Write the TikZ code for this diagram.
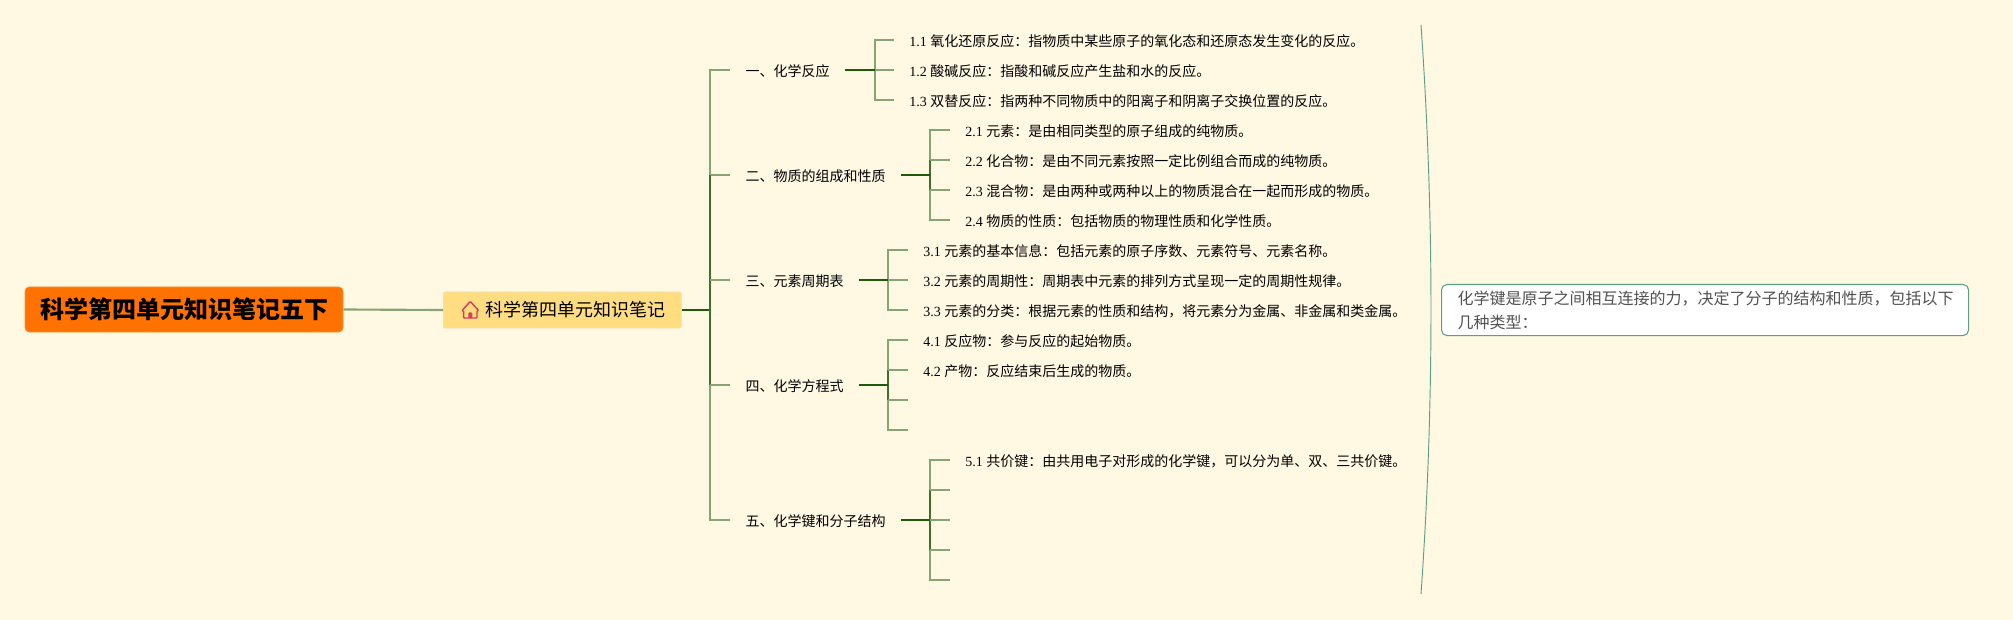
\documentclass[tikz,border=0pt]{standalone}
\usepackage{fontspec}
\setmainfont{Liberation Serif}
\newfontfamily\cjk{Noto Sans CJK SC}
\definecolor{bgc}{HTML}{FFF8E3}
\definecolor{lightline}{HTML}{86A574}
\definecolor{midline}{HTML}{3F6F2A}
\definecolor{darkline}{HTML}{1F5A0A}
\definecolor{rootfill}{HTML}{FF7200}
\definecolor{subfill}{HTML}{FFDD80}
\definecolor{noteline}{HTML}{5F9F85}
\definecolor{housered}{HTML}{D2405A}
\newcommand{\leaftext}[2]{#1 {\cjk #2}}
\newcommand{\fwcolon}{\char"FF1A\relax}
\newcommand{\fwcomma}{\char"FF0C\relax}
\tikzset{
  x=0.75pt,y=-0.75pt,
  rootnode/.style={draw=orange!85!white,fill=rootfill,rounded corners=3pt,minimum width=238.5pt,minimum height=33.75pt,inner sep=0pt,font=\cjk\bfseries\fontsize{18}{22}\selectfont,text=black},
  subnode/.style={draw=subfill!80!gray!60,fill=subfill,rounded corners=1pt,inner xsep=12pt,inner ysep=0pt,minimum height=27pt,font=\cjk\fontsize{13.5}{16}\selectfont,text=black},
  branchnode/.style={anchor=west,inner xsep=11.6pt,inner ysep=0pt,text height=10pt,text depth=0.5pt,font=\cjk\fontsize{10.5}{12}\selectfont,text=black},
  leafnode/.style={anchor=west,inner xsep=11.25pt,inner ysep=0pt,text height=10pt,text depth=0.5pt,font=\fontsize{10.5}{12}\selectfont,text=black},
  notenode/.style={draw=noteline,line width=0.8pt,fill=white,rounded corners=4pt,minimum width=395.25pt,minimum height=38.25pt,inner xsep=10.6pt,inner ysep=0pt,text width=374pt,align=left,font=\cjk\fontsize{12}{18}\selectfont,text=black!68},
  lightw/.style={draw=lightline,line width=1.6pt},
  midw/.style={draw=midline,line width=1.6pt},
  darkw/.style={draw=darkline,line width=2.2pt},
}
\begin{document}
\begin{tikzpicture}
\useasboundingbox[fill=bgc] (0,0) rectangle (2013,620);
% main nodes
\node[rootnode] (root) at (184,309.5) {科学第四单元知识笔记五下};
\node[subnode,anchor=west] (sub) at (443,310) {\hspace*{19.5pt}科学第四单元知识笔记};
\coordinate (trunk) at (710,310);
% branches
\node[branchnode] (b1) at (730,70) {一、化学反应};
\node[branchnode] (b2) at (730,175) {二、物质的组成和性质};
\node[branchnode] (b3) at (730,280) {三、元素周期表};
\node[branchnode] (b4) at (730,385) {四、化学方程式};
\node[branchnode] (b5) at (730,520) {五、化学键和分子结构};
% leaves
\node[leafnode] (l11) at (894,40) {\leaftext{1.1}{氧化还原反应\fwcolon 指物质中某些原子的氧化态和还原态发生变化的反应。}};
\node[leafnode] (l12) at (894,70) {\leaftext{1.2}{酸碱反应\fwcolon 指酸和碱反应产生盐和水的反应。}};
\node[leafnode] (l13) at (894,100) {\leaftext{1.3}{双替反应\fwcolon 指两种不同物质中的阳离子和阴离子交换位置的反应。}};
\node[leafnode] (l21) at (950,130) {\leaftext{2.1}{元素\fwcolon 是由相同类型的原子组成的纯物质。}};
\node[leafnode] (l22) at (950,160) {\leaftext{2.2}{化合物\fwcolon 是由不同元素按照一定比例组合而成的纯物质。}};
\node[leafnode] (l23) at (950,190) {\leaftext{2.3}{混合物\fwcolon 是由两种或两种以上的物质混合在一起而形成的物质。}};
\node[leafnode] (l24) at (950,220) {\leaftext{2.4}{物质的性质\fwcolon 包括物质的物理性质和化学性质。}};
\node[leafnode] (l31) at (908,250) {\leaftext{3.1}{元素的基本信息\fwcolon 包括元素的原子序数、元素符号、元素名称。}};
\node[leafnode] (l32) at (908,280) {\leaftext{3.2}{元素的周期性\fwcolon 周期表中元素的排列方式呈现一定的周期性规律。}};
\node[leafnode] (l33) at (908,310) {\leaftext{3.3}{元素的分类\fwcolon 根据元素的性质和结构\fwcomma 将元素分为金属、非金属和类金属。}};
\node[leafnode] (l41) at (908,340) {\leaftext{4.1}{反应物\fwcolon 参与反应的起始物质。}};
\node[leafnode] (l42) at (908,370) {\leaftext{4.2}{产物\fwcolon 反应结束后生成的物质。}};
\coordinate (l43) at (908,400);
\coordinate (l44) at (908,430);
\node[leafnode] (l51) at (950,460) {\leaftext{5.1}{共价键\fwcolon 由共用电子对形成的化学键\fwcomma 可以分为单、双、三共价键。}};
\coordinate (l52) at (950,490);
\coordinate (l53) at (950,520);
\coordinate (l54) at (950,550);
\coordinate (l55) at (950,580);
% junctions
\coordinate (j1) at (875,70);
\coordinate (j2) at (930,175);
\coordinate (j3) at (888,280);
\coordinate (j4) at (888,385);
\coordinate (j5) at (930,520);
% root to sub
\draw[lightw] (root.east) -- (sub.west);
\draw[darkw] (sub.east) -- (trunk);
% trunk
\draw[lightw,line join=miter] (trunk |- b2.west) -- (trunk |- b1.west) -- (b1.west);
\draw[lightw] (trunk |- b2.west) -- (b2.west);
\draw[midw] (trunk |- b2.west) -- (trunk |- b4.west);
\draw[lightw] (trunk |- b3.west) -- (b3.west);
\draw[lightw] (trunk |- b4.west) -- (b4.west);
\draw[lightw] (trunk |- b4.west) -- (trunk |- b5.west) -- (b5.west);
% branch 1
\draw[lightw] (j1) -- (l12.west);
\draw[lightw] (j1) -- (j1 |- l11.west) -- (l11.west);
\draw[lightw] (j1) -- (j1 |- l13.west) -- (l13.west);
\draw[darkw] (b1.east) -- (j1);
% branch 2
\draw[midw] (j2 |- l22.west) -- (j2 |- l23.west);
\draw[lightw] (j2 |- l22.west) -- (j2 |- l21.west) -- (l21.west);
\draw[lightw] (j2 |- l22.west) -- (l22.west);
\draw[lightw] (j2 |- l23.west) -- (l23.west);
\draw[lightw] (j2 |- l23.west) -- (j2 |- l24.west) -- (l24.west);
\draw[darkw] (b2.east) -- (j2);
% branch 3
\draw[lightw] (j3) -- (l32.west);
\draw[lightw] (j3) -- (j3 |- l31.west) -- (l31.west);
\draw[lightw] (j3) -- (j3 |- l33.west) -- (l33.west);
\draw[darkw] (b3.east) -- (j3);
% branch 4
\draw[midw] (j4 |- l42.west) -- (j4 |- l43);
\draw[lightw] (j4 |- l42.west) -- (j4 |- l41.west) -- (l41.west);
\draw[lightw] (j4 |- l42.west) -- (l42.west);
\draw[lightw] (j4 |- l43) -- (l43);
\draw[lightw] (j4 |- l43) -- (j4 |- l44) -- (l44);
\draw[darkw] (b4.east) -- (j4);
% branch 5
\draw[midw] (j5 |- l52) -- (j5 |- l54);
\draw[lightw] (j5 |- l52) -- (j5 |- l51.west) -- (l51.west);
\draw[lightw] (j5 |- l52) -- (l52);
\draw[lightw] (j5) -- (l53);
\draw[lightw] (j5 |- l54) -- (l54);
\draw[lightw] (j5 |- l54) -- (j5 |- l55) -- (l55);
\draw[darkw] (b5.east) -- (j5);
% house icon
\draw[housered,line width=1.1pt,line join=round,line cap=round,rounded corners=0.6pt]
  (462,310.5) -- (470.3,301.5) -- (478.6,310.5) -- (477,311) -- (477,318) -- (463.6,318) -- (463.6,311) -- cycle;
\fill[housered,rounded corners=0.8pt] (468.3,318.3) -- (468.3,312.3) -- (472.3,312.3) -- (472.3,318.3) -- cycle;
% bracket and note
\coordinate (brtop) at (1421,25);
\coordinate (brbot) at (1421,594);
\draw[noteline,line width=0.7pt] (brtop) .. controls (1434.3,215) and (1434.3,404) .. (brbot);
\node[notenode,anchor=north west] (note) at (1441,284) {\hspace*{1.5pt}化学键是原子之间相互连接的力\fwcomma 决定了分子的结构和性质\fwcomma 包括以下\\\hspace*{1.5pt}几种类型\fwcolon};
\end{tikzpicture}
\end{document}
